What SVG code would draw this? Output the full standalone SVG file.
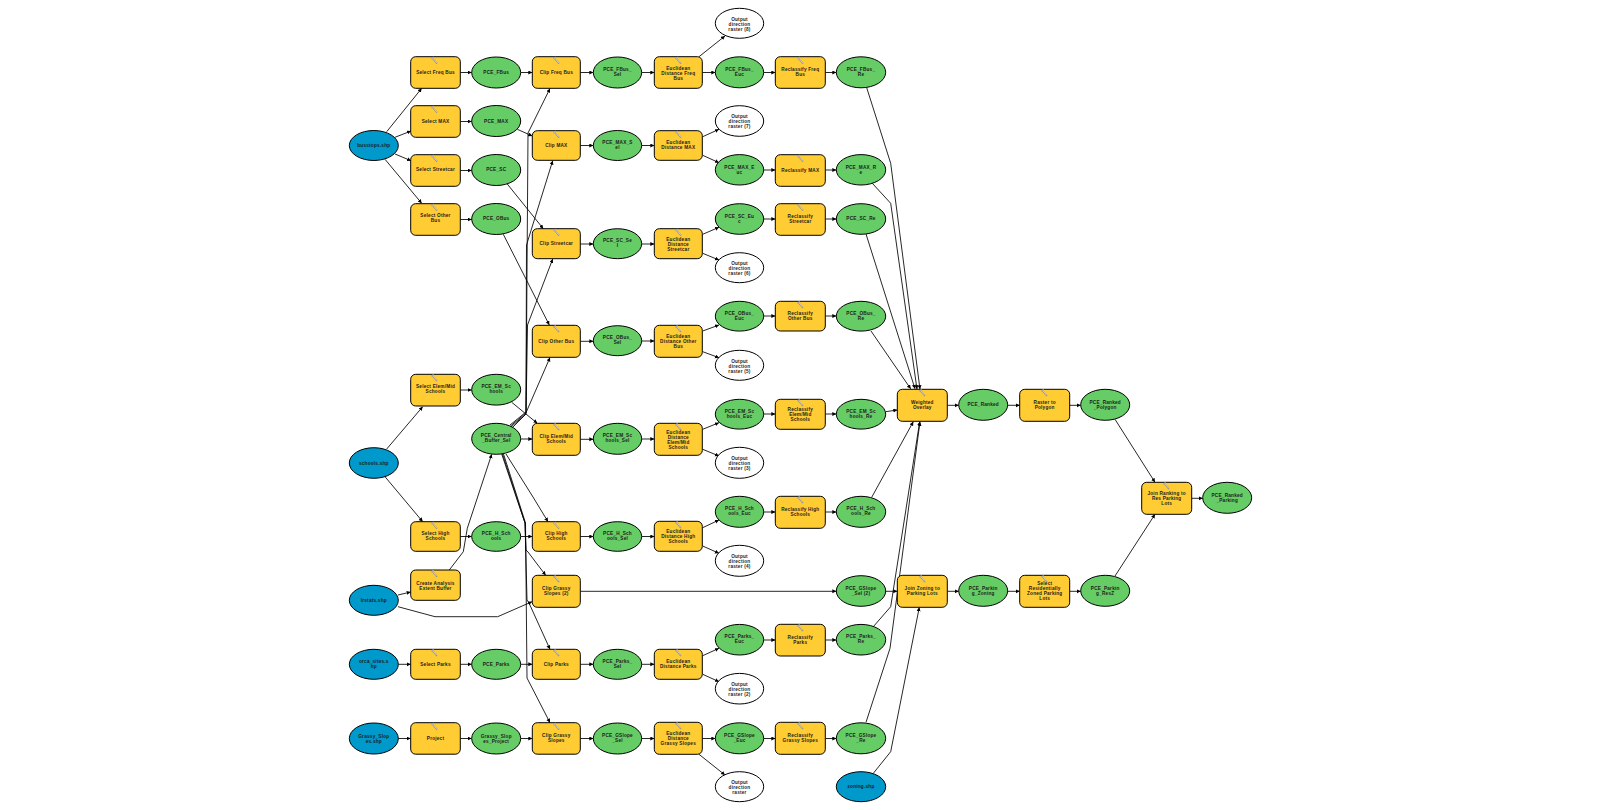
<svg xmlns="http://www.w3.org/2000/svg" width="1601" height="810" viewBox="0 0 1601 810">
<style>
.bg{fill:#fff}
.tool{fill:#ffcc33;stroke:#000;stroke-width:1}
.der{fill:#66cc66;stroke:#000;stroke-width:1}
.inp{fill:#0099cc;stroke:#000;stroke-width:1}
.out{fill:#fff;stroke:#000;stroke-width:1}
.t{font-family:"Liberation Sans",Arial,sans-serif;font-size:4.7px;font-weight:bold;letter-spacing:.22px;text-anchor:middle;fill:#1c1c1c}
.c path{fill:none;stroke:#000;stroke-width:.85;marker-end:url(#a)}
</style>
<defs>
<marker id="a" markerUnits="userSpaceOnUse" markerWidth="5" markerHeight="5" refX="4" refY="2" orient="auto"><path d="M0 0L4 2L0 4Z" fill="#000" stroke="none"/></marker>
<g id="i"><path d="M-2.5-3L2.5 3" stroke="#888" stroke-width="1.4" fill="none"/><path d="M-3-1.5L-.8-3.5" stroke="#aaa" stroke-width="1.2" fill="none"/><path d="M-1.5-2.2L2.2 2.4" stroke="#fff" stroke-width=".6" fill="none"/></g>
</defs>
<rect class="bg" width="1601" height="810"/>
<g id="connectors" class="c">
<path d="M386.700 131.700L421.700 88.300"/><path d="M395 137.300L411 131"/><path d="M395 154L411 160.700"/><path d="M385 159.300L421.700 203.300"/>
<path d="M386.700 449L422.700 406.700"/><path d="M385 476.700L422.700 521.700"/>
<path d="M398 595L410.700 592"/><path d="M398 606.700L435 616.700L497.700 616.700L532 601.700"/>
<path d="M449.300 570L463.300 551.700L467.300 528.300L491.700 454.300"/>
<path d="M398.300 664.300H410.700"/><path d="M398.300 738.500H410.700"/>
<path d="M460.300 72.500H471.700"/><path d="M460.300 121.500H471.700"/><path d="M460.300 170.500H471.700"/><path d="M460.300 219.500H471.700"/><path d="M460.300 390H471.700"/><path d="M460.300 536.500H471.700"/><path d="M460.300 664.300H471.700"/><path d="M460.300 738.500H471.700"/>
<path d="M520.700 72.500H532.300"/><path d="M517.300 129.300L532.300 136"/><path d="M506.700 183.300L543.300 228.700"/><path d="M503.300 234.300L549.300 325"/><path d="M511.700 402.300L537.300 423.300"/><path d="M520.700 536.500H532.300"/><path d="M520.700 664.300H532.300"/><path d="M520.700 738.500H532.300"/>
<path d="M510 425L526 412L528 133L550 88.500"/>
<path d="M510.500 426L526 413L526.500 245L552.700 160.700"/>
<path d="M511 427L526 414L527.500 325L552.700 259"/>
<path d="M512 428L525 415L550 357.500"/>
<path d="M520.700 439H532.300"/>
<path d="M506 454L533 497L548 521.700"/>
<path d="M501.700 454L525 523L526 550L528 552L545.700 575.300"/>
<path d="M502.500 454L525 523L527 600L529 603L550 649.300"/>
<path d="M503.500 454L525.500 523L527 678L550 722.700"/>
<path d="M580.300 72.500H593.300"/><path d="M580.300 145.500H593.300"/><path d="M580.300 244H593.300"/><path d="M580.300 341.300H593.300"/><path d="M580.300 439.300H593.300"/><path d="M580.300 536.500H593.300"/><path d="M580.300 664.300H593.300"/><path d="M580.300 738.500H593.300"/>
<path d="M580.300 591.300H836.300"/>
<path d="M641.700 72.500H654.300"/><path d="M641.700 145.500H654.300"/><path d="M641.700 244H654.300"/><path d="M641.700 341H654.300"/><path d="M641.700 439H654.300"/><path d="M641.700 536.500H654.300"/><path d="M641.700 664.300H654.300"/><path d="M641.700 738.500H654.300"/>
<path d="M699 56.700L725 36"/><path d="M702.300 72.500H715.300"/>
<path d="M702.700 136.700L719 129.300"/><path d="M702.700 155.300L719 162.700"/>
<path d="M702.700 234.300L719 227.300"/><path d="M702.700 253.300L719 260"/>
<path d="M702.700 331L719 325"/><path d="M702.700 351.700L719 357.700"/>
<path d="M702.700 429.300L719 422.700"/><path d="M702.700 449.300L719 456"/>
<path d="M702.700 527.700L719 520"/><path d="M702.700 546L719 553.300"/>
<path d="M702.700 655.700L719 648.300"/><path d="M702.700 674.300L719 681.700"/>
<path d="M702.300 738.500H715.300"/><path d="M699 754.300L725 775"/>
<path d="M763.700 72.500H775.300"/><path d="M763.700 170H775.300"/><path d="M763.700 219H775.300"/><path d="M763.700 316H775.300"/><path d="M763.700 414H775.300"/><path d="M763.700 512H775.300"/><path d="M763.700 640H775.300"/><path d="M763.700 738.500H775.300"/>
<path d="M825.300 72.500H836.300"/><path d="M825.300 170H836.300"/><path d="M825.300 219H836.300"/><path d="M825.300 316H836.300"/><path d="M825.300 414H836.300"/><path d="M825.300 512H836.300"/><path d="M825.300 640H836.300"/><path d="M825.300 738.500H836.300"/>
<path d="M866.700 87.700L890.700 163.300L920 389.300"/>
<path d="M872.300 183.300L890.700 203.300L917 389.300"/>
<path d="M866 234L915 388.800"/>
<path d="M871 331L910.700 388.800"/>
<path d="M885.700 411.700L897.300 410"/>
<path d="M871.700 497.300L913.300 421.700"/>
<path d="M873.300 626.700L890.700 606.700L919.700 421.700"/>
<path d="M866 722.300L890 648.300L920 421.700"/>
<path d="M885.700 591.300H897.300"/>
<path d="M873.300 773.300L890.700 751.700L919.300 607.300"/>
<path d="M947.300 405.300H958.700"/><path d="M1007.700 405.300H1019.700"/><path d="M1069.700 405.300H1080.700"/>
<path d="M947.300 591.300H958.700"/><path d="M1007.700 591.300H1019.700"/><path d="M1069.700 591.300H1080.700"/>
<path d="M1115 419.300L1155 482.300"/><path d="M1115 576L1155 514.300"/>
<path d="M1191.700 498.300H1202.700"/>
</g>
<g id="n1"><ellipse class="inp" cx="373.800" cy="145.500" rx="24.500" ry="15"/><text class="t" x="373.800" y="147.100">busstops.shp</text></g>
<g id="n2"><ellipse class="inp" cx="373.800" cy="463" rx="24.500" ry="15.300"/><text class="t" x="373.800" y="464.600">schools.shp</text></g>
<g id="n3"><ellipse class="inp" cx="373.800" cy="600.300" rx="24.500" ry="15"/><text class="t" x="373.800" y="601.900">lrstats.shp</text></g>
<g id="n4"><ellipse class="inp" cx="373.800" cy="664.300" rx="24.500" ry="15"/><text class="t" x="373.800" y="663.400">orca_sites.s</text><text class="t" x="373.800" y="668.400">hp</text></g>
<g id="n5"><ellipse class="inp" cx="373.800" cy="738.500" rx="24.500" ry="15.500"/><text class="t" x="373.800" y="737.600">Grassy_Slop</text><text class="t" x="373.800" y="742.600">es.shp</text></g>
<g id="n6"><ellipse class="inp" cx="861" cy="786.700" rx="24.700" ry="15"/><text class="t" x="861" y="788.300">zoning.shp</text></g>

<g id="s1"><rect class="tool" x="410.700" y="56.700" width="49.600" height="31.600" rx="5"/><use href="#i" x="434.500" y="60.500"/><text class="t" x="435.500" y="74.100">Select Freq Bus</text></g>
<g id="s2"><rect class="tool" x="410.700" y="105.700" width="49.600" height="31.600" rx="5"/><use href="#i" x="434.500" y="109.500"/><text class="t" x="435.500" y="123.100">Select MAX</text></g>
<g id="s3"><rect class="tool" x="410.700" y="154.700" width="49.600" height="31.600" rx="5"/><use href="#i" x="434.500" y="158.500"/><text class="t" x="435.500" y="171.100">Select Streetcar</text></g>
<g id="s4"><rect class="tool" x="410.700" y="203.700" width="49.600" height="31.600" rx="5"/><use href="#i" x="434.500" y="207.500"/><text class="t" x="435.500" y="217.400">Select Other</text><text class="t" x="435.500" y="222.400">Bus</text></g>
<g id="s5"><rect class="tool" x="410.700" y="374.300" width="49.600" height="31.700" rx="5"/><use href="#i" x="434.500" y="378"/><text class="t" x="435.500" y="388">Select Elem/Mid</text><text class="t" x="435.500" y="393">Schools</text></g>
<g id="s6"><rect class="tool" x="410.700" y="521.700" width="49.600" height="29.600" rx="5"/><use href="#i" x="434.500" y="525.500"/><text class="t" x="435.500" y="535">Select High</text><text class="t" x="435.500" y="540">Schools</text></g>
<g id="s7"><rect class="tool" x="410.700" y="570" width="49.600" height="30.300" rx="5"/><use href="#i" x="434.500" y="573.800"/><text class="t" x="435.500" y="584.500">Create Analysis</text><text class="t" x="435.500" y="589.500">Extent Buffer</text></g>
<g id="s8"><rect class="tool" x="410.700" y="649.300" width="49.600" height="30" rx="5"/><use href="#i" x="434.500" y="653"/><text class="t" x="435.500" y="666">Select Parks</text></g>
<g id="s9"><rect class="tool" x="410.700" y="722.700" width="49.600" height="31.500" rx="5"/><use href="#i" x="434.500" y="726.500"/><text class="t" x="435.500" y="739.500">Project</text></g>

<g id="d1"><ellipse class="der" cx="496.200" cy="72.500" rx="24.500" ry="15.500"/><text class="t" x="496.200" y="74.100">PCE_FBus</text></g>
<g id="d2"><ellipse class="der" cx="496.200" cy="121" rx="24.500" ry="15.500"/><text class="t" x="496.200" y="122.600">PCE_MAX</text></g>
<g id="d3"><ellipse class="der" cx="496.200" cy="170" rx="24.500" ry="15.500"/><text class="t" x="496.200" y="171.100">PCE_SC</text></g>
<g id="d4"><ellipse class="der" cx="496.200" cy="219" rx="24.500" ry="15.500"/><text class="t" x="496.200" y="220.100">PCE_OBus</text></g>
<g id="d5"><ellipse class="der" cx="496.200" cy="389.700" rx="24.500" ry="15.400"/><text class="t" x="496.200" y="388.300">PCE_EM_Sc</text><text class="t" x="496.200" y="393.300">hools</text></g>
<g id="d6"><ellipse class="der" cx="496.200" cy="438.800" rx="24.500" ry="15.500"/><text class="t" x="496.200" y="437.300">PCE_Central</text><text class="t" x="496.200" y="442.300">_Buffer_Sel</text></g>
<g id="d7"><ellipse class="der" cx="496.200" cy="536.500" rx="24.500" ry="14.800"/><text class="t" x="496.200" y="535">PCE_H_Sch</text><text class="t" x="496.200" y="540">ools</text></g>
<g id="d8"><ellipse class="der" cx="496.200" cy="664.300" rx="24.500" ry="15"/><text class="t" x="496.200" y="665.500">PCE_Parks</text></g>
<g id="d9"><ellipse class="der" cx="496.200" cy="738.500" rx="24.500" ry="15.500"/><text class="t" x="496.200" y="737.600">Grassy_Slop</text><text class="t" x="496.200" y="742.600">es_Project</text></g>

<g id="c1"><rect class="tool" x="532.300" y="56.700" width="48" height="31.600" rx="5"/><use href="#i" x="556.500" y="60.500"/><text class="t" x="556.300" y="74.100">Clip Freq Bus</text></g>
<g id="c2"><rect class="tool" x="532.300" y="130.700" width="48" height="29.600" rx="5"/><use href="#i" x="556.500" y="134.500"/><text class="t" x="556.300" y="147.100">Clip MAX</text></g>
<g id="c3"><rect class="tool" x="532.300" y="228.700" width="48" height="30" rx="5"/><use href="#i" x="556.500" y="232.500"/><text class="t" x="556.300" y="245.300">Clip Streetcar</text></g>
<g id="c4"><rect class="tool" x="532.300" y="325.300" width="48" height="32" rx="5"/><use href="#i" x="556.500" y="329"/><text class="t" x="556.300" y="343">Clip Other Bus</text></g>
<g id="c5"><rect class="tool" x="532.300" y="423.300" width="48" height="32" rx="5"/><use href="#i" x="556.500" y="427"/><text class="t" x="556.300" y="437.500">Clip Elem/Mid</text><text class="t" x="556.300" y="442.500">Schools</text></g>
<g id="c6"><rect class="tool" x="532.300" y="521.700" width="48" height="29.600" rx="5"/><use href="#i" x="556.500" y="525.500"/><text class="t" x="556.300" y="535">Clip High</text><text class="t" x="556.300" y="540">Schools</text></g>
<g id="c7"><rect class="tool" x="532.300" y="575.300" width="48" height="32" rx="5"/><use href="#i" x="556.500" y="579"/><text class="t" x="556.300" y="590">Clip Grassy</text><text class="t" x="556.300" y="595">Slopes (2)</text></g>
<g id="c8"><rect class="tool" x="532.300" y="649.300" width="48" height="30" rx="5"/><use href="#i" x="556.500" y="653"/><text class="t" x="556.300" y="666">Clip Parks</text></g>
<g id="c9"><rect class="tool" x="532.300" y="722.700" width="48" height="31.500" rx="5"/><use href="#i" x="556.500" y="726.500"/><text class="t" x="556.300" y="736.600">Clip Grassy</text><text class="t" x="556.300" y="741.600">Slopes</text></g>

<g id="e1"><ellipse class="der" cx="617.500" cy="72.500" rx="24.200" ry="15.500"/><text class="t" x="617.500" y="71">PCE_FBus_</text><text class="t" x="617.500" y="76">Sel</text></g>
<g id="e2"><ellipse class="der" cx="617.500" cy="145.500" rx="24.200" ry="15"/><text class="t" x="617.500" y="144">PCE_MAX_S</text><text class="t" x="617.500" y="149">el</text></g>
<g id="e3"><ellipse class="der" cx="617.500" cy="243.700" rx="24.200" ry="15"/><text class="t" x="617.500" y="242.200">PCE_SC_Se</text><text class="t" x="617.500" y="247.200">l</text></g>
<g id="e4"><ellipse class="der" cx="617.500" cy="340.700" rx="24.200" ry="15"/><text class="t" x="617.500" y="339.200">PCE_OBus_</text><text class="t" x="617.500" y="344.200">Sel</text></g>
<g id="e5"><ellipse class="der" cx="617.500" cy="438.800" rx="24.200" ry="15.500"/><text class="t" x="617.500" y="437.300">PCE_EM_Sc</text><text class="t" x="617.500" y="442.300">hools_Sel</text></g>
<g id="e6"><ellipse class="der" cx="617.500" cy="536.500" rx="24.200" ry="14.800"/><text class="t" x="617.500" y="535">PCE_H_Sch</text><text class="t" x="617.500" y="540">ools_Sel</text></g>
<g id="e7"><ellipse class="der" cx="617.500" cy="664.300" rx="24.200" ry="15"/><text class="t" x="617.500" y="662.800">PCE_Parks_</text><text class="t" x="617.500" y="667.800">Sel</text></g>
<g id="e8"><ellipse class="der" cx="617.500" cy="738.500" rx="24.200" ry="15.500"/><text class="t" x="617.500" y="737">PCE_GSlope</text><text class="t" x="617.500" y="742">_Sel</text></g>

<g id="u1"><rect class="tool" x="654.300" y="56.700" width="48" height="31.600" rx="5"/><use href="#i" x="678.500" y="60.500"/><text class="t" x="678.300" y="69.500">Euclidean</text><text class="t" x="678.300" y="74.500">Distance Freq</text><text class="t" x="678.300" y="79.500">Bus</text></g>
<g id="u2"><rect class="tool" x="654.300" y="130.700" width="48" height="29.600" rx="5"/><use href="#i" x="678.500" y="134.500"/><text class="t" x="678.300" y="144">Euclidean</text><text class="t" x="678.300" y="149">Distance MAX</text></g>
<g id="u3"><rect class="tool" x="654.300" y="228.700" width="48" height="30" rx="5"/><use href="#i" x="678.500" y="232.500"/><text class="t" x="678.300" y="240.500">Euclidean</text><text class="t" x="678.300" y="245.500">Distance</text><text class="t" x="678.300" y="250.500">Streetcar</text></g>
<g id="u4"><rect class="tool" x="654.300" y="325.300" width="48" height="32" rx="5"/><use href="#i" x="678.500" y="329"/><text class="t" x="678.300" y="338">Euclidean</text><text class="t" x="678.300" y="343">Distance Other</text><text class="t" x="678.300" y="348">Bus</text></g>
<g id="u5"><rect class="tool" x="654.300" y="423.300" width="48" height="32" rx="5"/><use href="#i" x="678.500" y="427"/><text class="t" x="678.300" y="433.500">Euclidean</text><text class="t" x="678.300" y="438.500">Distance</text><text class="t" x="678.300" y="443.500">Elem/Mid</text><text class="t" x="678.300" y="448.500">Schools</text></g>
<g id="u6"><rect class="tool" x="654.300" y="521.300" width="48" height="30" rx="5"/><use href="#i" x="678.500" y="525"/><text class="t" x="678.300" y="533">Euclidean</text><text class="t" x="678.300" y="538">Distance High</text><text class="t" x="678.300" y="543">Schools</text></g>
<g id="u7"><rect class="tool" x="654.300" y="649.300" width="48" height="30" rx="5"/><use href="#i" x="678.500" y="653"/><text class="t" x="678.300" y="663">Euclidean</text><text class="t" x="678.300" y="668">Distance Parks</text></g>
<g id="u8"><rect class="tool" x="654.300" y="722.300" width="48" height="32" rx="5"/><use href="#i" x="678.500" y="726"/><text class="t" x="678.300" y="735">Euclidean</text><text class="t" x="678.300" y="740">Distance</text><text class="t" x="678.300" y="745">Grassy Slopes</text></g>

<g id="o1"><ellipse class="out" cx="739.500" cy="23.300" rx="24.200" ry="15"/><text class="t" x="739.500" y="20.500">Output</text><text class="t" x="739.500" y="25.500">direction</text><text class="t" x="739.500" y="30.500">raster (8)</text></g>
<g id="o2"><ellipse class="out" cx="739.500" cy="121" rx="24.200" ry="15.300"/><text class="t" x="739.500" y="118">Output</text><text class="t" x="739.500" y="123">direction</text><text class="t" x="739.500" y="128">raster (7)</text></g>
<g id="o3"><ellipse class="out" cx="739.500" cy="267.700" rx="24.200" ry="15"/><text class="t" x="739.500" y="264.500">Output</text><text class="t" x="739.500" y="269.500">direction</text><text class="t" x="739.500" y="274.500">raster (6)</text></g>
<g id="o4"><ellipse class="out" cx="739.500" cy="365.300" rx="24.200" ry="15"/><text class="t" x="739.500" y="362.500">Output</text><text class="t" x="739.500" y="367.500">direction</text><text class="t" x="739.500" y="372.500">raster (5)</text></g>
<g id="o5"><ellipse class="out" cx="739.500" cy="462.800" rx="24.200" ry="15.500"/><text class="t" x="739.500" y="460">Output</text><text class="t" x="739.500" y="465">direction</text><text class="t" x="739.500" y="470">raster (3)</text></g>
<g id="o6"><ellipse class="out" cx="739.500" cy="560.800" rx="24.200" ry="15.500"/><text class="t" x="739.500" y="558">Output</text><text class="t" x="739.500" y="563">direction</text><text class="t" x="739.500" y="568">raster (4)</text></g>
<g id="o7"><ellipse class="out" cx="739.500" cy="688.700" rx="24.200" ry="15.300"/><text class="t" x="739.500" y="685.500">Output</text><text class="t" x="739.500" y="690.500">direction</text><text class="t" x="739.500" y="695.500">raster (2)</text></g>
<g id="o8"><ellipse class="out" cx="739.500" cy="786.700" rx="24.200" ry="15"/><text class="t" x="739.500" y="783.500">Output</text><text class="t" x="739.500" y="788.500">direction</text><text class="t" x="739.500" y="793.500">raster</text></g>

<g id="f1"><ellipse class="der" cx="739.500" cy="72.300" rx="24.200" ry="15.500"/><text class="t" x="739.500" y="71">PCE_FBus_</text><text class="t" x="739.500" y="76">Euc</text></g>
<g id="f2"><ellipse class="der" cx="739.500" cy="169.800" rx="24.200" ry="15.200"/><text class="t" x="739.500" y="168.500">PCE_MAX_E</text><text class="t" x="739.500" y="173.500">uc</text></g>
<g id="f3"><ellipse class="der" cx="739.500" cy="219" rx="24.200" ry="15.300"/><text class="t" x="739.500" y="217.500">PCE_SC_Eu</text><text class="t" x="739.500" y="222.500">c</text></g>
<g id="f4"><ellipse class="der" cx="739.500" cy="316.200" rx="24.200" ry="14.900"/><text class="t" x="739.500" y="314.700">PCE_OBus_</text><text class="t" x="739.500" y="319.700">Euc</text></g>
<g id="f5"><ellipse class="der" cx="739.500" cy="414.200" rx="24.200" ry="14.900"/><text class="t" x="739.500" y="412.700">PCE_EM_Sc</text><text class="t" x="739.500" y="417.700">hools_Euc</text></g>
<g id="f6"><ellipse class="der" cx="739.500" cy="511.800" rx="24.200" ry="15.500"/><text class="t" x="739.500" y="510.300">PCE_H_Sch</text><text class="t" x="739.500" y="515.300">ools_Euc</text></g>
<g id="f7"><ellipse class="der" cx="739.500" cy="639.700" rx="24.200" ry="15.300"/><text class="t" x="739.500" y="638.200">PCE_Parks_</text><text class="t" x="739.500" y="643.200">Euc</text></g>
<g id="f8"><ellipse class="der" cx="739.500" cy="738.300" rx="24.200" ry="15.500"/><text class="t" x="739.500" y="736.800">PCE_GSlope</text><text class="t" x="739.500" y="741.800">_Euc</text></g>

<g id="r1"><rect class="tool" x="775.300" y="56.700" width="50" height="31.600" rx="5"/><use href="#i" x="800.500" y="60.500"/><text class="t" x="800.300" y="71">Reclassify Freq</text><text class="t" x="800.300" y="76">Bus</text></g>
<g id="r2"><rect class="tool" x="775.300" y="154.700" width="50" height="31.600" rx="5"/><use href="#i" x="800.500" y="158.500"/><text class="t" x="800.300" y="171.500">Reclassify MAX</text></g>
<g id="r3"><rect class="tool" x="775.300" y="203.700" width="50" height="31.600" rx="5"/><use href="#i" x="800.500" y="207.500"/><text class="t" x="800.300" y="217.500">Reclassify</text><text class="t" x="800.300" y="222.500">Streetcar</text></g>
<g id="r4"><rect class="tool" x="775.300" y="301.300" width="50" height="29.700" rx="5"/><use href="#i" x="800.500" y="305"/><text class="t" x="800.300" y="315">Reclassify</text><text class="t" x="800.300" y="320">Other Bus</text></g>
<g id="r5"><rect class="tool" x="775.300" y="399.300" width="50" height="30" rx="5"/><use href="#i" x="800.500" y="403"/><text class="t" x="800.300" y="411">Reclassify</text><text class="t" x="800.300" y="416">Elem/Mid</text><text class="t" x="800.300" y="421">Schools</text></g>
<g id="r6"><rect class="tool" x="775.300" y="496.300" width="50" height="32" rx="5"/><use href="#i" x="800.500" y="500"/><text class="t" x="800.300" y="511">Reclassify High</text><text class="t" x="800.300" y="516">Schools</text></g>
<g id="r7"><rect class="tool" x="775.300" y="624.300" width="50" height="31.700" rx="5"/><use href="#i" x="800.500" y="628"/><text class="t" x="800.300" y="639">Reclassify</text><text class="t" x="800.300" y="644">Parks</text></g>
<g id="r8"><rect class="tool" x="775.300" y="722.300" width="50" height="32" rx="5"/><use href="#i" x="800.500" y="726"/><text class="t" x="800.300" y="737">Reclassify</text><text class="t" x="800.300" y="742">Grassy Slopes</text></g>

<g id="g1"><ellipse class="der" cx="861" cy="72.300" rx="24.700" ry="15.500"/><text class="t" x="861" y="71">PCE_FBus_</text><text class="t" x="861" y="76">Re</text></g>
<g id="g2"><ellipse class="der" cx="861" cy="169.800" rx="24.700" ry="15.200"/><text class="t" x="861" y="168.500">PCE_MAX_R</text><text class="t" x="861" y="173.500">e</text></g>
<g id="g3"><ellipse class="der" cx="861" cy="219" rx="24.700" ry="15.300"/><text class="t" x="861" y="220">PCE_SC_Re</text></g>
<g id="g4"><ellipse class="der" cx="861" cy="316.200" rx="24.700" ry="14.900"/><text class="t" x="861" y="314.700">PCE_OBus_</text><text class="t" x="861" y="319.700">Re</text></g>
<g id="g5"><ellipse class="der" cx="861" cy="414.200" rx="24.700" ry="14.900"/><text class="t" x="861" y="412.700">PCE_EM_Sc</text><text class="t" x="861" y="417.700">hools_Re</text></g>
<g id="g6"><ellipse class="der" cx="861" cy="511.800" rx="24.700" ry="15.500"/><text class="t" x="861" y="510.300">PCE_H_Sch</text><text class="t" x="861" y="515.300">ools_Re</text></g>
<g id="g7"><ellipse class="der" cx="861" cy="591" rx="24.700" ry="15.300"/><text class="t" x="861" y="589.500">PCE_GSlope</text><text class="t" x="861" y="594.500">_Sel (2)</text></g>
<g id="g8"><ellipse class="der" cx="861" cy="639.700" rx="24.700" ry="15.300"/><text class="t" x="861" y="638.200">PCE_Parks_</text><text class="t" x="861" y="643.200">Re</text></g>
<g id="g9"><ellipse class="der" cx="861" cy="738.300" rx="24.700" ry="15.500"/><text class="t" x="861" y="736.800">PCE_GSlope</text><text class="t" x="861" y="741.800">_Re</text></g>

<g id="w1"><rect class="tool" x="897.300" y="389.300" width="50" height="32" rx="5"/><use href="#i" x="922.500" y="393"/><text class="t" x="922.300" y="404">Weighted</text><text class="t" x="922.300" y="409">Overlay</text></g>
<g id="w2"><ellipse class="der" cx="983.200" cy="404.800" rx="24.500" ry="15.500"/><text class="t" x="983.200" y="406">PCE_Ranked</text></g>
<g id="w3"><rect class="tool" x="1019.700" y="389.300" width="50" height="32" rx="5"/><use href="#i" x="1044.500" y="393"/><text class="t" x="1044.700" y="404">Raster to</text><text class="t" x="1044.700" y="409">Polygon</text></g>
<g id="w4"><ellipse class="der" cx="1105.200" cy="404.800" rx="24.500" ry="15.500"/><text class="t" x="1105.200" y="404">PCE_Ranked</text><text class="t" x="1105.200" y="409">_Polygon</text></g>
<g id="j1"><rect class="tool" x="897.300" y="575.300" width="50" height="32" rx="5"/><use href="#i" x="922.500" y="579"/><text class="t" x="922.300" y="590">Join Zoning to</text><text class="t" x="922.300" y="595">Parking Lots</text></g>
<g id="j2"><ellipse class="der" cx="983.200" cy="590.800" rx="24.500" ry="15.500"/><text class="t" x="983.200" y="590">PCE_Parkin</text><text class="t" x="983.200" y="595">g_Zoning</text></g>
<g id="j3"><rect class="tool" x="1019.700" y="575.300" width="50" height="32" rx="5"/><use href="#i" x="1044.500" y="579"/><text class="t" x="1044.700" y="584.500">Select</text><text class="t" x="1044.700" y="589.500">Residentially</text><text class="t" x="1044.700" y="594.500">Zoned Parking</text><text class="t" x="1044.700" y="599.500">Lots</text></g>
<g id="j4"><ellipse class="der" cx="1105.200" cy="590.800" rx="24.500" ry="15.500"/><text class="t" x="1105.200" y="590">PCE_Parkin</text><text class="t" x="1105.200" y="595">g_ResZ</text></g>
<g id="k1"><rect class="tool" x="1141.700" y="482.300" width="50" height="32" rx="5"/><use href="#i" x="1166.500" y="486"/><text class="t" x="1166.700" y="495">Join Ranking to</text><text class="t" x="1166.700" y="500">Res Parking</text><text class="t" x="1166.700" y="505">Lots</text></g>
<g id="k2"><ellipse class="der" cx="1227.200" cy="497.800" rx="24.500" ry="15.500"/><text class="t" x="1227.200" y="497">PCE_Ranked</text><text class="t" x="1227.200" y="502">_Parking</text></g>
</svg>
